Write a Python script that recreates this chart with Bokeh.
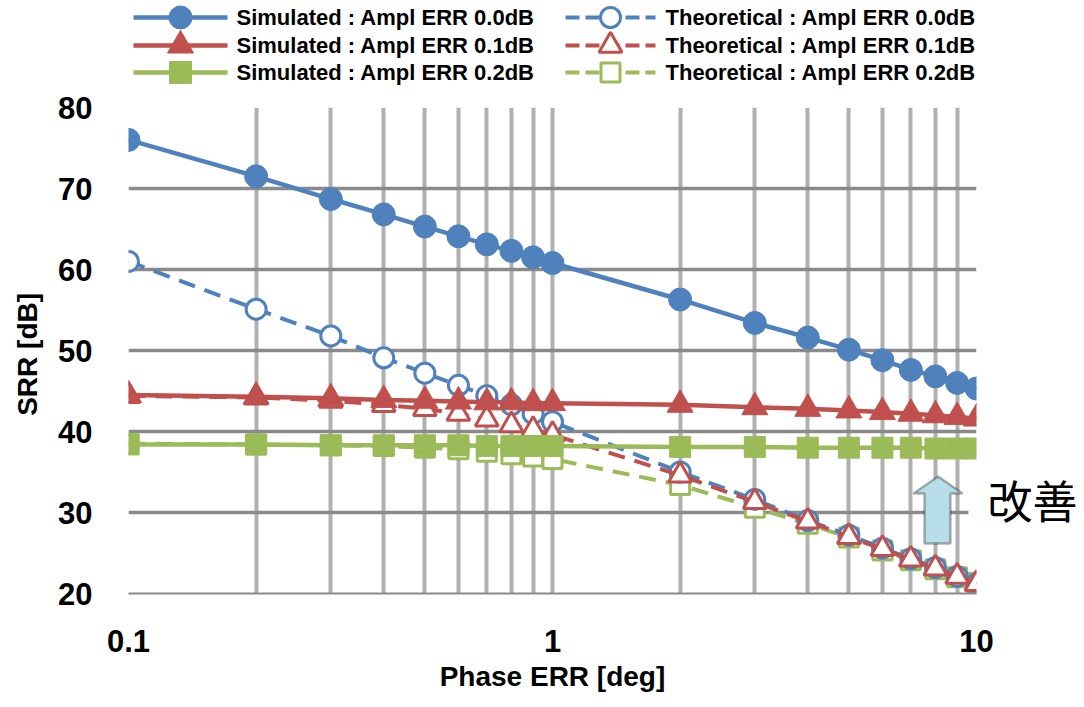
from bokeh.plotting import figure
from bokeh.layouts import column
from bokeh.models import (Range1d, FixedTicker, CustomJSTickFormatter, LinearAxis,
                          PolyAnnotation, BoxAnnotation)
from bokeh.core.properties import value
from bokeh.embed import file_html
from bokeh.resources import INLINE

# ---------------- data ----------------
PHASE = [0.1, 0.2, 0.3, 0.4, 0.5, 0.6, 0.7, 0.8, 0.9, 1, 2, 3, 4, 5, 6, 7, 8, 9, 10]
SIM_00 = [76.0, 71.5, 68.7, 66.8, 65.3, 64.1, 63.1, 62.3, 61.5, 60.8,
          56.3, 53.4, 51.6, 50.1, 48.8, 47.6, 46.8, 46.0, 45.3]
SIM_01 = [44.5, 44.3, 44.1, 43.9, 43.8, 43.7, 43.6, 43.6, 43.5, 43.5,
          43.3, 43.0, 42.8, 42.6, 42.4, 42.2, 42.0, 41.8, 41.6]
SIM_02 = [38.4, 38.4, 38.3, 38.3, 38.3, 38.3, 38.2, 38.2, 38.2, 38.2,
          38.1, 38.1, 38.0, 38.0, 38.0, 38.0, 37.9, 37.9, 37.9]
THEO_00 = [61.0, 55.1, 51.8, 49.1, 47.2, 45.7, 44.4, 43.3, 42.2, 41.2,
           35.0, 31.6, 29.0, 27.2, 25.6, 24.3, 23.2, 22.1, 21.2]
THEO_01 = [44.4, 44.2, 43.8, 43.3, 42.8, 42.2, 41.5, 40.8, 40.2, 39.6,
           34.6, 31.3, 28.9, 27.0, 25.5, 24.2, 23.1, 22.1, 21.2]
THEO_02 = [38.5, 38.4, 38.3, 38.2, 38.0, 37.8, 37.5, 37.2, 36.9, 36.6,
           33.4, 30.6, 28.6, 26.9, 25.3, 24.1, 23.0, 22.0, 21.3]

X_TICKS = [0.1, 1, 10]
X_GRID = [0.1, 0.2, 0.3, 0.4, 0.5, 0.6, 0.7, 0.8, 0.9, 1, 2, 3, 4, 5, 6, 7, 8, 9, 10]
Y_TICKS = [20, 30, 40, 50, 60, 70, 80]

SIM_LABELS = ["Simulated : Ampl ERR 0.0dB", "Simulated : Ampl ERR 0.1dB", "Simulated : Ampl ERR 0.2dB"]
THEO_LABELS = ["Theoretical : Ampl ERR 0.0dB", "Theoretical : Ampl ERR 0.1dB", "Theoretical : Ampl ERR 0.2dB"]
X_TITLE = "Phase ERR [deg]"
Y_TITLE = "SRR  [dB]"
NOTE = "改善"
NOTE_Y = [31.6]

BLUE, RED, GREEN = "#4F81BD", "#C0504D", "#9BBB59"
FONT = "Liberation Sans"

# ---------------- main plot ----------------
p = figure(x_axis_type="log", x_range=Range1d(0.1, 10), y_range=Range1d(20, 80),
           frame_width=848, frame_height=486,
           min_border_left=128, min_border_right=104, min_border_top=15, min_border_bottom=90,
           output_backend="svg", toolbar_location=None)
p.outline_line_color = None
p.background_fill_color = "white"
p.border_fill_color = "white"

xax = p.xaxis[0]
yax = p.yaxis[0]
xax.ticker = FixedTicker(ticks=X_TICKS)
xax.formatter = CustomJSTickFormatter(code="return tick.toString();")
yax.ticker = FixedTicker(ticks=Y_TICKS)
p.xgrid.ticker = FixedTicker(ticks=X_GRID)
p.ygrid.ticker = FixedTicker(ticks=Y_TICKS)
p.xgrid.grid_line_color = "#b0b0b0"
p.xgrid.grid_line_width = 4
p.ygrid.grid_line_color = "#8a8a8a"
p.ygrid.grid_line_width = 3.5

for ax in (xax, yax):
    ax.major_tick_line_color = None
    ax.minor_tick_line_color = None
    ax.major_tick_out = 0
    ax.major_tick_in = 0
    ax.minor_tick_out = 0
    ax.major_label_text_font = FONT
    ax.major_label_text_font_style = "bold"
    ax.major_label_text_font_size = "31px"
    ax.major_label_text_color = "black"
    ax.axis_label_text_font = FONT
    ax.axis_label_text_font_style = "bold"
    ax.axis_label_text_font_size = "28px"
    ax.axis_label_text_color = "black"
yax.axis_line_color = None
xax.axis_line_color = "#8a8a8a"
xax.axis_line_width = 2
xax.axis_label = X_TITLE
yax.axis_label = Y_TITLE
yax.major_label_standoff = 36
yax.axis_label_standoff = 12
xax.major_label_standoff = 36
xax.axis_label_standoff = 6

# right-side note "改善" rendered as a single-tick axis label
note_axis = LinearAxis(ticker=FixedTicker(ticks=NOTE_Y),
                       formatter=CustomJSTickFormatter(args=dict(note=NOTE), code="return note;"),
                       axis_line_color=None, major_tick_line_color=None,
                       minor_tick_line_color=None, major_tick_out=0, major_tick_in=0,
                       major_label_standoff=11,
                       major_label_text_font="Noto Sans CJK JP",
                       major_label_text_font_size="45px",
                       major_label_text_color="black")
p.add_layout(note_axis, "right")

# white patch where the note box hides the gridlines
p.add_layout(BoxAnnotation(left=9.57, right=12, bottom=27.4, top=36.2,
                           fill_color="white", fill_alpha=1, line_color=None,
                           level="underlay"))

# theoretical series (dashed, open markers) drawn first
for ys, col, mk, sz in ((THEO_02, GREEN, "square", 19), (THEO_00, BLUE, "circle", 20),
                        (THEO_01, RED, "triangle", 23)):
    p.line(PHASE, ys, line_color=col, line_width=4, line_dash="17 10")
    p.scatter(PHASE, ys, marker=mk, size=sz, fill_color="white", line_color=col, line_width=3)

# simulated series (solid, filled markers) on top
for ys, col, mk, sz in ((SIM_00, BLUE, "circle", 23), (SIM_01, RED, "triangle", 26),
                        (SIM_02, GREEN, "square", 21)):
    p.line(PHASE, ys, line_color=col, line_width=4.5)
    p.scatter(PHASE, ys, marker=mk, size=sz, fill_color=col, line_color=col)

# improvement arrow
p.add_layout(PolyAnnotation(xs=[8.12, 9.27, 8.68, 8.68, 7.54, 7.54, 7.10],
                            ys=[34.44, 32.35, 32.35, 26.17, 26.17, 32.35, 32.35],
                            fill_color="#B7DEE8", fill_alpha=1, line_color="black",
                            line_width=2.5))

# ---------------- legend (separate strip, frame aligned with main frame) ----------------
lg = figure(x_range=Range1d(128, 1080), y_range=Range1d(0, 92),
            frame_width=952, frame_height=92,
            min_border_left=128, min_border_right=0, min_border_top=0, min_border_bottom=0,
            x_axis_location=None, y_axis_location=None,
            output_backend="svg", toolbar_location=None)
lg.outline_line_color = None
lg.xgrid.visible = False
lg.ygrid.visible = False

rows_y = [75, 47, 20]
cols = [BLUE, RED, GREEN]
marks = [("circle", 23), ("triangle", 26), ("square", 22)]
for i in range(3):
    yy = rows_y[i]
    # simulated
    lg.line([133, 227], [yy, yy], line_color=cols[i], line_width=4.5)
    lg.scatter([180], [yy], marker=marks[i][0], size=marks[i][1],
               fill_color=cols[i], line_color=cols[i])
    lg.text([236], [yy], text=[SIM_LABELS[i]], text_font=value(FONT),
            text_font_style="bold", text_font_size="22px", text_baseline="middle",
            text_color="black")
    # theoretical
    lg.line([565, 655], [yy, yy], line_color=cols[i], line_width=4, line_dash="14 6")
    lg.scatter([610], [yy], marker=marks[i][0], size=marks[i][1] - 3,
               fill_color="white", line_color=cols[i], line_width=3)
    lg.text([665], [yy], text=[THEO_LABELS[i]], text_font=value(FONT),
            text_font_style="bold", text_font_size="22px", text_baseline="middle",
            text_color="black")

layout = column(lg, p, spacing=0)
open("out.html", "w", encoding="utf-8").write(file_html(layout, INLINE))
